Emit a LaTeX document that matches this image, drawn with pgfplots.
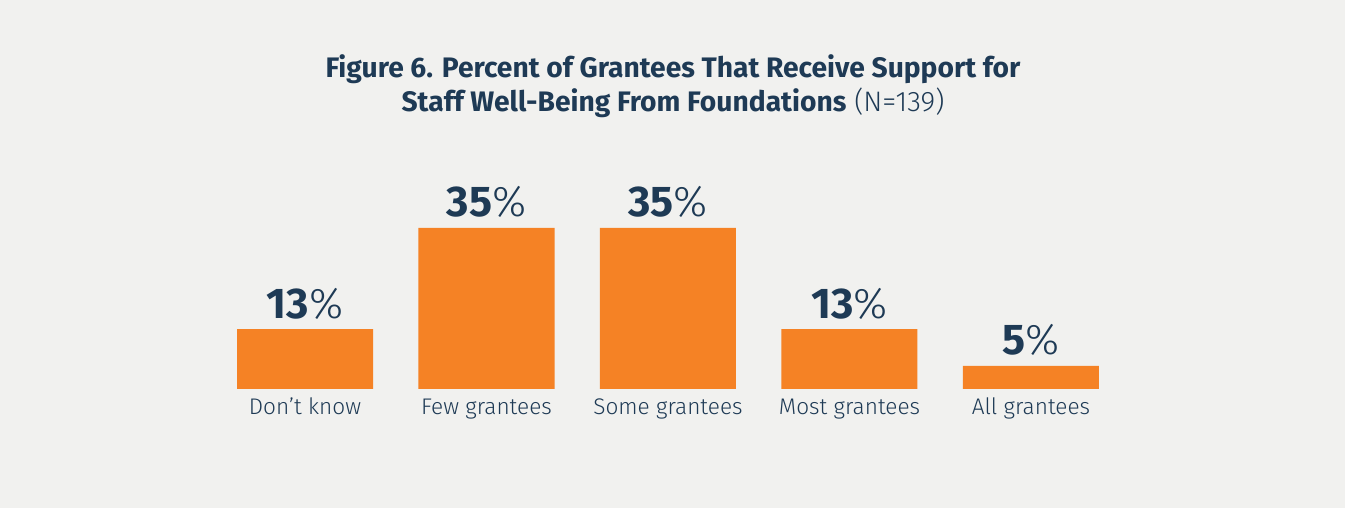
\documentclass[border=0pt]{standalone}
\usepackage{pgfplots}
\pgfplotsset{compat=1.18}
\usepackage{fontspec}
\setmainfont{Fira Sans}[UprightFont=* Light, BoldFont=* Bold]
\definecolor{bg}{HTML}{F1F1EF}
\definecolor{barc}{HTML}{F58225}
\definecolor{navy}{HTML}{1E3A55}
\begin{document}
\begin{tikzpicture}
\fill[bg] (0,0) rectangle (672.5pt,254pt);
\node[anchor=base, text=navy, font=\fontsize{14.1}{16}\selectfont] at (336.5pt,215.35pt) {\textbf{Figure 6. Percent of Grantees That Receive Support for}};
\node[anchor=base, text=navy, font=\fontsize{14.1}{16}\selectfont] at (336.5pt,198.15pt) {\textbf{Staff Well-Being From Foundations} (N=139)};
\begin{axis}[at={(107.125pt,59.5pt)}, anchor=south west, scale only axis,
  width=453.75pt, height=92pt, xmin=-0.5, xmax=4.5, ymin=0, ymax=40,
  axis line style={draw=none}, ytick=\empty, xtick=data,
  xticklabels={Don’t know, Few grantees, Some grantees, Most grantees, All grantees},
  major tick length=0pt,
  xticklabel style={font=\fontsize{11.3}{13}\selectfont, text=navy, anchor=base, yshift=-13pt},
  clip=false]
\addplot[ybar, bar width=68pt, fill=barc, draw=none, point meta=explicit symbolic,
  nodes near coords={\textbf{\pgfplotspointmeta}\%},
  nodes near coords style={anchor=base, inner sep=0pt, yshift=5.5pt, text=navy, font=\fontsize{21.5}{24}\selectfont}]
  coordinates {(0,13)[13] (1,35)[35] (2,35)[35] (3,13)[13] (4,5)[5]};
\end{axis}
\end{tikzpicture}
\end{document}
